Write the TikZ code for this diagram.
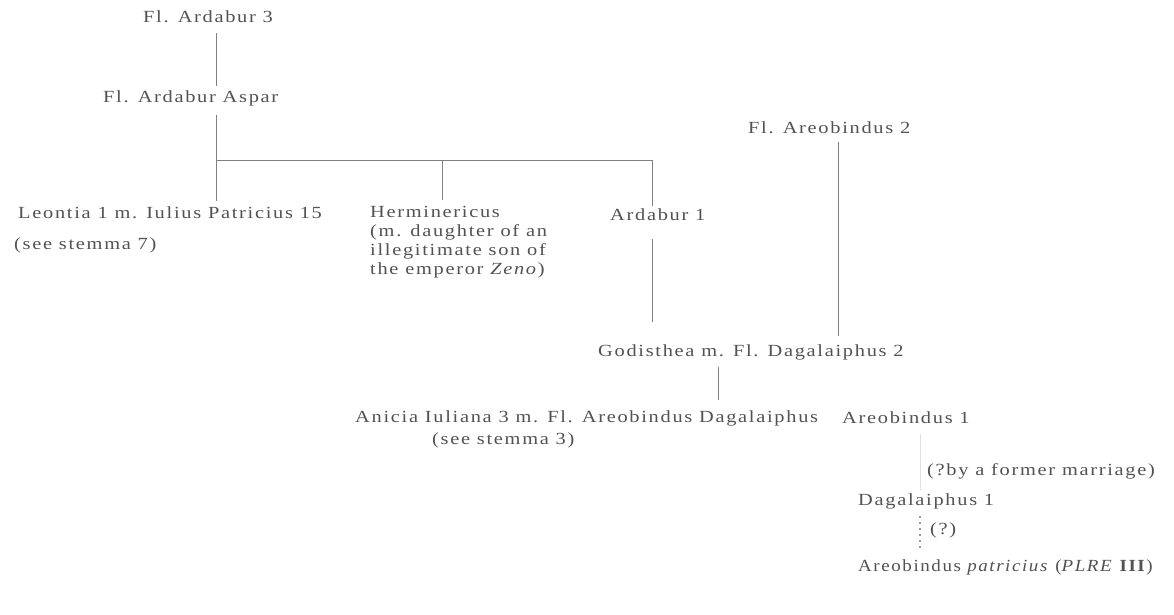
\documentclass[tikz,border=0pt]{standalone}
\usepackage{fontspec}
\setmainfont{Liberation Serif}[FakeStretch=1.2,LetterSpace=10]
\begin{document}
\begin{tikzpicture}[x=1pt,y=-1pt,
  lbl/.style={anchor=west,inner sep=0pt,text=black!68,font=\fontsize{17}{19}\selectfont},
  blk/.style={anchor=north west,inner sep=0pt,align=left,text=black!68,font=\fontsize{17}{19}\selectfont},
  ln/.style={draw=black!50,line width=1pt},
  faint/.style={draw=black!12,line width=1pt},
  dots/.style={draw=black!40,line width=1.1pt,dash pattern=on 2pt off 4pt}]
\useasboundingbox (0,0) rectangle (1174,614);
% people
\node[lbl] (a3) at (143,17) {Fl. Ardabur 3};
\node[lbl] (aspar) at (103,98) {Fl. Ardabur Aspar};
\node[lbl] (leontia) at (18,213) {Leontia 1 m. Iulius Patricius 15};
\node[lbl] (see7) at (14,245) {(see stemma 7)};
\node[blk] (hermin) at (370,206) {Herminericus\\(m. daughter of an\\illegitimate son of\\the emperor \textit{Zeno})};
\node[lbl] (ard1) at (610,215) {Ardabur 1};
\node[lbl] (areo2) at (748,128) {Fl. Areobindus 2};
\node[lbl] (godis) at (598,352) {Godisthea m. Fl. Dagalaiphus 2};
\node[lbl] (anicia) at (355,418) {Anicia Iuliana 3 m. Fl. Areobindus Dagalaiphus};
\node[lbl] (areo1) at (842,418) {Areobindus 1};
\node[lbl] (see3) at (432,440) {(see stemma 3)};
\node[lbl] (former) at (927,471) {(?by a former marriage)};
\node[lbl] (dag1) at (858,501) {Dagalaiphus 1};
\node[lbl] (q) at (930,530) {(?)};
\node[lbl] (patr) at (858,567) {\scalebox{0.93}[1]{Areobindus \textit{patricius} (\textit{PLRE} \textbf{III})}};
% junction coordinates
\coordinate (xA) at (216,160);
\coordinate (xH) at (442,160);
\coordinate (xR) at (652,160);
\coordinate (xB) at (838,337);
\coordinate (xG) at (718,400);
\coordinate (xD) at (920,490);
% connectors
\draw[ln] ([yshift=-10pt]xA |- a3.south) -- ([yshift=4pt]xA |- aspar.north);
\draw[ln] ([yshift=-9pt]xA |- aspar.south) -- (xA) -- (xR) -- ([yshift=3pt]xR |- ard1.north);
\draw[ln] (xA) -- ([yshift=6pt]xA |- leontia.north);
\draw[ln] (xH) -- ([yshift=6pt]xH |- hermin.north);
\draw[ln] ([yshift=-18pt]xR |- ard1.south) -- ([yshift=22pt]xR |- godis.north);
\draw[ln] ([yshift=-8pt]xB |- areo2.south) -- ([yshift=8pt]xB |- godis.north);
\draw[ln] ([yshift=-7pt]xG |- godis.south) -- (xG);
\draw[faint] ([yshift=-10pt]xD |- areo1.south) -- (xD);
\draw[dots] ([yshift=-7pt]xD |- dag1.south) -- ([yshift=9pt]xD |- patr.north);
\end{tikzpicture}
\end{document}
